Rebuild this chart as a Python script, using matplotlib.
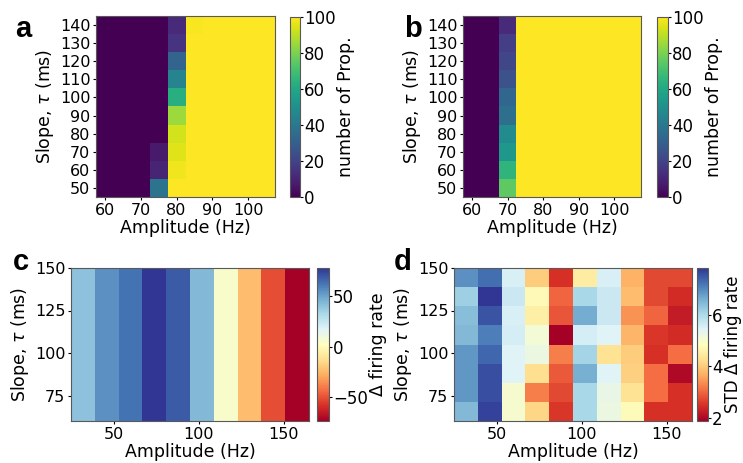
import numpy as np
import matplotlib
matplotlib.use('Agg')
import matplotlib.pyplot as plt

# panels a/b: proportion grid (rows = slope, cols = amplitude)
amp_ab = [60, 65, 70, 75, 80, 85, 90, 95, 100, 105]
tau_ab = [50, 60, 70, 80, 90, 100, 110, 120, 130, 140]

# columns that are not 0 or 100 (values bottom -> top)
a_col75 = [38, 10, 7, 0, 0, 0, 0, 0, 0, 0]
a_col80 = [100, 98, 95, 93, 85, 63, 45, 32, 15, 12]
a_col85 = [100, 100, 100, 100, 100, 100, 100, 100, 100, 99]
b_col70 = [75, 65, 53, 48, 36, 33, 25, 21, 18, 12]

# panel c: mean delta firing rate per amplitude column
c_cols = [40, 55, 63, 78, 69, 43, 5, -24, -51, -74]

# panel d: STD delta firing rate, rows bottom -> top
d_vals = [
    [6.47, 7.72, 5.03, 4.14, 2.53, 6.05, 5.21, 4.80, 2.47, 2.47],
    [6.88, 7.60, 5.03, 3.24, 2.71, 6.05, 5.27, 4.32, 3.06, 2.47],
    [6.88, 7.60, 5.45, 4.26, 2.88, 6.59, 5.45, 4.08, 3.06, 1.99],
    [6.88, 7.36, 5.45, 5.21, 3.24, 6.11, 4.32, 4.02, 2.47, 3.06],
    [6.47, 7.12, 5.57, 5.09, 1.87, 5.57, 5.45, 3.78, 2.53, 2.41],
    [6.41, 7.54, 5.51, 4.56, 2.83, 6.65, 5.69, 3.42, 3.00, 2.23],
    [6.17, 7.84, 5.69, 4.74, 3.00, 6.05, 5.69, 3.84, 2.71, 2.41],
    [6.94, 7.30, 5.51, 4.02, 2.47, 4.50, 5.51, 3.72, 2.71, 2.71],
]
amp_cd = (25, 165)
tau_cd = (60, 150)

# build grids
grid_a = np.full((10, 10), 100.0)
grid_a[:, 0:3] = 0
grid_a[:, 3] = a_col75
grid_a[:, 4] = a_col80
grid_a[:, 5] = a_col85

grid_b = np.full((10, 10), 100.0)
grid_b[:, 0:2] = 0
grid_b[:, 2] = b_col70

grid_c = np.tile(np.array(c_cols, dtype=float), (8, 1))
grid_d = np.array(d_vals)

TICK = 11.5
CTICK = 12
LAB = 12.5
plt.rcParams['font.family'] = 'DejaVu Sans'
plt.rcParams['axes.edgecolor'] = '0.35'

fig = plt.figure(figsize=(7.43, 4.63), dpi=100)
W, H = 743.0, 463.0


def box(x0, x1, y0, y1):
    return [x0 / W, 1 - y1 / H, (x1 - x0) / W, (y1 - y0) / H]


def style(ax):
    ax.tick_params(labelsize=TICK, length=2.5, pad=1.5, width=0.8)
    for s in ax.spines.values():
        s.set_linewidth(0.8)


def cbar_style(cb, label, pad, size=LAB):
    cb.ax.tick_params(labelsize=CTICK, length=2, pad=1, width=0.8)
    cb.outline.set_edgecolor('0.35')
    cb.outline.set_linewidth(0.8)
    cb.set_label(label, fontsize=size, labelpad=pad)


# a
ax_a = fig.add_axes(box(96, 275, 16, 197))
m = ax_a.pcolormesh(amp_ab, tau_ab, grid_a, cmap='viridis', shading='nearest', vmin=0, vmax=100)
ax_a.set_xticks([60, 70, 80, 90, 100])
ax_a.set_yticks(tau_ab)
ax_a.set_xlabel('Amplitude (Hz)', fontsize=LAB, labelpad=1)
ax_a.set_ylabel(r'Slope, $\tau$ (ms)', fontsize=LAB, labelpad=3)
style(ax_a)
cax = fig.add_axes(box(290, 300, 17, 197))
cb = fig.colorbar(m, cax=cax, ticks=[0, 20, 40, 60, 80, 100])
cbar_style(cb, 'number of Prop.', 1)

# b
ax_b = fig.add_axes(box(463, 641, 16, 197))
m = ax_b.pcolormesh(amp_ab, tau_ab, grid_b, cmap='viridis', shading='nearest', vmin=0, vmax=100)
ax_b.set_xticks([60, 70, 80, 90, 100])
ax_b.set_yticks(tau_ab)
ax_b.set_xlabel('Amplitude (Hz)', fontsize=LAB, labelpad=1)
ax_b.set_ylabel(r'Slope, $\tau$ (ms)', fontsize=LAB, labelpad=3)
style(ax_b)
cax = fig.add_axes(box(657, 668, 17, 197))
cb = fig.colorbar(m, cax=cax, ticks=[0, 20, 40, 60, 80, 100])
cbar_style(cb, 'number of Prop.', 1)

# c
ax_c = fig.add_axes(box(71, 309, 268, 421))
m = ax_c.imshow(grid_c, cmap='RdYlBu', origin='lower', aspect='auto',
                extent=[amp_cd[0], amp_cd[1], tau_cd[0], tau_cd[1]])
ax_c.set_xticks([50, 100, 150])
ax_c.set_yticks([75, 100, 125, 150])
ax_c.set_xlabel('Amplitude (Hz)', fontsize=LAB, labelpad=1)
ax_c.set_ylabel(r'Slope, $\tau$ (ms)', fontsize=LAB, labelpad=3)
style(ax_c)
cax = fig.add_axes(box(317, 329, 268, 421))
cb = fig.colorbar(m, cax=cax, ticks=[-50, 0, 50])
cbar_style(cb, 'Δ firing rate', 1)

# d
ax_d = fig.add_axes(box(454, 692, 268, 421))
m = ax_d.imshow(grid_d, cmap='RdYlBu', origin='lower', aspect='auto',
                extent=[amp_cd[0], amp_cd[1], tau_cd[0], tau_cd[1]])
ax_d.set_xticks([50, 100, 150])
ax_d.set_yticks([75, 100, 125, 150])
ax_d.set_xlabel('Amplitude (Hz)', fontsize=LAB, labelpad=1)
ax_d.set_ylabel(r'Slope, $\tau$ (ms)', fontsize=LAB, labelpad=3)
style(ax_d)
cax = fig.add_axes(box(697, 708, 268, 421))
cb = fig.colorbar(m, cax=cax, ticks=[2, 4, 6])
cbar_style(cb, 'STD Δ firing rate', 1, size=12)

# panel letters
for letter, x, y in [('a', 15, 37), ('b', 404, 37), ('c', 13, 270), ('d', 394, 270)]:
    fig.text(x / W, 1 - y / H, letter, fontsize=21, fontweight='bold',
             family='Liberation Sans', va='baseline', ha='left')

fig.savefig('out.png', dpi=100)
